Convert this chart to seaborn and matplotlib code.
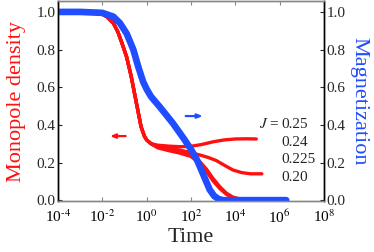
import numpy as np
import pandas as pd
import matplotlib
matplotlib.use("Agg")
import matplotlib.pyplot as plt
import seaborn as sns

# ---- data (log10 of time, values) ----
early_logt = [-4.0, -3.0, -2.5, -2.0, -1.8, -1.5, -1.3, -1.1, -0.9, -0.7, -0.55, -0.4, -0.25, -0.1, 0.0, 0.2]
early_rho = [1.0, 1.0, 0.997, 0.988, 0.975, 0.94, 0.895, 0.83, 0.76, 0.66, 0.57, 0.48, 0.39, 0.34, 0.32, 0.30]

j25_logt = [0.5, 1.0, 1.5, 2.0, 2.5, 3.0, 3.5, 4.0, 4.5, 4.95]
j25_rho = [0.292, 0.287, 0.284, 0.286, 0.296, 0.31, 0.32, 0.325, 0.326, 0.325]
j24_logt = [0.5, 1.0, 1.5, 2.0, 2.4, 2.8, 3.15, 3.5, 3.9, 4.3, 4.7, 5.2]
j24_rho = [0.287, 0.276, 0.266, 0.252, 0.24, 0.226, 0.21, 0.186, 0.16, 0.146, 0.14, 0.14]
j225_logt = [0.5, 1.0, 1.5, 2.0, 2.4, 2.7, 3.0, 3.3, 3.6, 3.9, 4.2, 4.6]
j225_rho = [0.282, 0.27, 0.257, 0.242, 0.205, 0.165, 0.115, 0.072, 0.037, 0.016, 0.007, 0.004]
j20_logt = [0.5, 1.0, 1.5, 2.0, 2.4, 2.7, 3.0, 3.3, 3.6, 3.9, 4.2, 4.5]
j20_rho = [0.278, 0.263, 0.25, 0.232, 0.195, 0.153, 0.102, 0.062, 0.031, 0.012, 0.005, 0.003]

mag_logt = [-4.0, -3.0, -2.0, -1.5, -1.2, -0.9, -0.6, -0.38, -0.16, 0.0, 0.2, 0.59, 1.19, 1.72, 2.0, 2.25, 2.47, 2.65, 2.85, 3.05, 3.25, 3.45, 4.0, 5.0, 6.3]
mag_val = [1.0, 1.0, 0.995, 0.975, 0.94, 0.885, 0.8, 0.71, 0.63, 0.59, 0.55, 0.496, 0.408, 0.32, 0.27, 0.22, 0.16, 0.11, 0.055, 0.022, 0.006, 0.0, 0.0, 0.0, 0.0]

J_labels = ["0.25", "0.24", "0.225", "0.20"]
xtick_exps = [-4, -2, 0, 2, 4, 6, 8]
ytick_vals = [0.0, 0.2, 0.4, 0.6, 0.8, 1.0]

RED = "#ff1010"
BLUE = "#1f4dff"

sns.set_style("ticks")
plt.rcParams["font.family"] = ["Liberation Serif", "DejaVu Serif"]
plt.rcParams["mathtext.fontset"] = "stix"

rows = []
branches = [(j25_logt, j25_rho), (j24_logt, j24_rho), (j225_logt, j225_rho), (j20_logt, j20_rho)]
for lab, (lt, rv) in zip(J_labels, branches):
    for x, y in zip(early_logt + lt, early_rho + rv):
        rows.append({"t": 10.0 ** x, "rho": y, "J": lab})
df_rho = pd.DataFrame(rows)
df_mag = pd.DataFrame({"t": 10.0 ** np.array(mag_logt), "m": mag_val})

fig = plt.figure(figsize=(3.74, 2.52), dpi=100)
ax = fig.add_axes([0.155, 0.202, 0.711, 0.794])
ax2 = ax.twinx()

sns.lineplot(data=df_rho, x="t", y="rho", units="J", estimator=None,
             color=RED, lw=2.4, ax=ax, legend=False, sort=False)
sns.lineplot(data=df_mag, x="t", y="m", color=BLUE, lw=4.8, ax=ax2,
             legend=False, sort=False)

for a in (ax, ax2):
    a.set_xscale("log")
    a.set_xlim(1e-4, 1e8)
    a.set_ylim(-0.005, 1.058)
    a.set_yticks(ytick_vals)
    a.set_yticklabels([f"{v:.1f}" for v in ytick_vals])

ax.set_xticks([10.0 ** e for e in xtick_exps])
ax.set_xticklabels([f"10$^{{{e}}}$".replace("-", "\u2010") if e < 0 else f"10$^{{{e}}}$" for e in xtick_exps])
ax.xaxis.set_minor_locator(matplotlib.ticker.NullLocator())

ax.tick_params(axis="x", which="major", direction="in", top=True, bottom=True,
               length=3, color="#888888", labelsize=11, pad=5, labelcolor="black")
ax.tick_params(axis="y", direction="in", left=True, right=False, length=3,
               labelsize=11, pad=2)
ax2.tick_params(axis="y", direction="in", right=True, left=False, length=3,
                labelsize=11, pad=2)

for a in (ax, ax2):
    a.spines["top"].set_color("#888888")
    a.spines["bottom"].set_color("#888888")
    a.spines["left"].set_color("black")
    a.spines["right"].set_color("black")
    for s in a.spines.values():
        s.set_linewidth(1.0)

ax.set_xlabel("Time", fontsize=16, labelpad=2)
ax.set_ylabel("Monopole density", fontsize=16, color=RED, labelpad=7)
ax2.set_ylabel("Magnetization", fontsize=16, color=BLUE, rotation=270, labelpad=16)

# J annotations
ax.text(0.833, 0.385, "$J$ =", transform=ax.transAxes, fontsize=11,
        ha="right", va="center")
ys = [0.385, 0.295, 0.21, 0.12]
for lab, yy in zip(J_labels, ys):
    ax.text(0.842, yy, lab, transform=ax.transAxes, fontsize=11,
            ha="left", va="center")

# arrows
ax.annotate("", xy=(0.185, 0.325), xytext=(0.265, 0.325), xycoords="axes fraction",
            arrowprops=dict(arrowstyle="-|>,head_length=0.3,head_width=0.12", color=RED, lw=1.6))
ax.annotate("", xy=(0.555, 0.425), xytext=(0.47, 0.425), xycoords="axes fraction",
            arrowprops=dict(arrowstyle="-|>,head_length=0.3,head_width=0.12", color=BLUE, lw=1.6))

fig.savefig("out.png", dpi=100)
